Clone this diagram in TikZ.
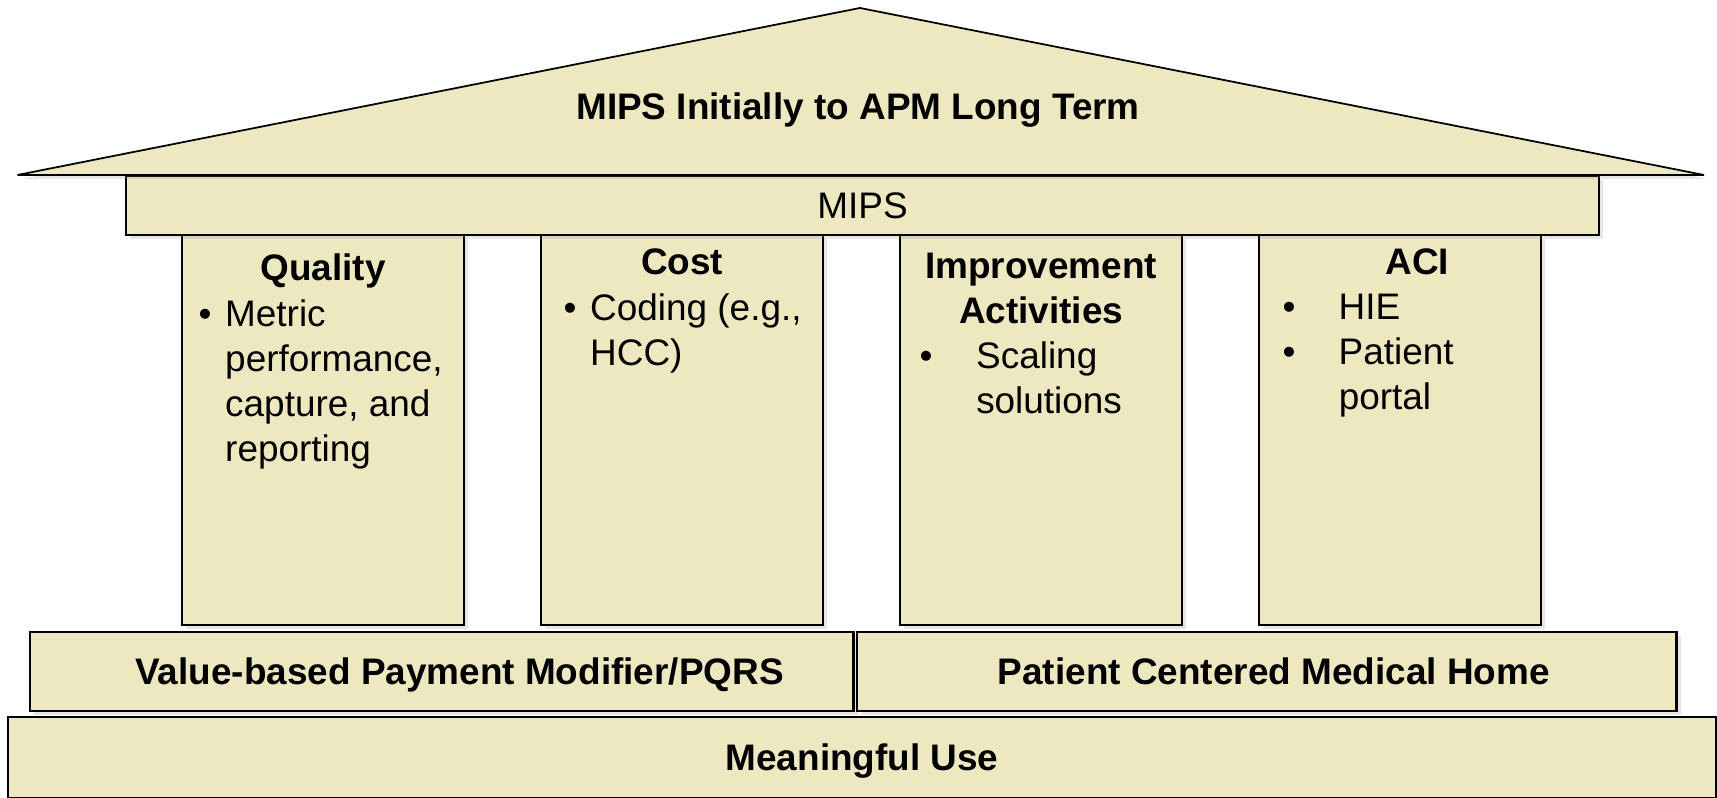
\documentclass[tikz,border=0pt]{standalone}
\usepackage{fontspec}
\setmainfont{Liberation Sans}
\usepackage{tikz}
\usetikzlibrary{shapes,shadows,positioning}
\definecolor{housefill}{RGB}{238,232,193}
\newcommand{\housefont}{\fontsize{10.5}{12.8}\selectfont}
\newcommand{\bulletlist}[2]{\begin{tabular}[t]{@{}p{#1}@{}l@{}}#2\end{tabular}}
\tikzset{basic/.style={draw,line width=0.6pt,fill=housefill,drop shadow={opacity=0.2,fill=black!50,shadow xshift=0.04cm,shadow yshift=-0.04cm}}}
\tikzset{beam/.style={basic,rectangle,anchor=north west,inner sep=0pt,text height=7.5pt,text depth=0pt,font=\housefont}}
\tikzset{footing/.style={beam,font=\housefont\bfseries}}
\tikzset{pillar/.style={basic,rectangle,anchor=north west,inner sep=0pt,minimum width=2.82cm,minimum height=3.9cm}}
\tikzset{head/.style={anchor=base,inner sep=0pt,font=\housefont\bfseries}}
\tikzset{items/.style={anchor=base west,inner sep=0pt,font=\housefont}}

\begin{document}
\begin{tikzpicture}[x=0.01cm,y=-0.01cm]
    \useasboundingbox (0,0) rectangle (1717,798);

    \node[footing,minimum width=17.07cm,minimum height=0.81cm] (mu) at (7,716) {Meaningful Use};
    \node[footing,minimum width=8.235cm,minimum height=0.79cm] (vbpm) at (28.5,631) {\hspace*{0.36cm}Value-based Payment Modifier/PQRS};
    \node[footing,minimum width=8.19cm,minimum height=0.79cm] (pcmh) at (856,631) {\hspace*{0.14cm}Patient Centered Medical Home};

    \node[pillar] (qual) at (181,234) {};
    \node[pillar] (cost) at (540,234) {};
    \node[pillar] (impr) at (899,234) {};
    \node[pillar] (aci) at (1258,234) {};

    \node[beam,minimum width=14.72cm,minimum height=0.59cm] (mips) at (125,175) {MIPS};

    \draw[basic,line width=0.5pt] (17.5,175) -- (860,8) -- (1704,175) -- cycle;
    \node[head] (title) at (858,120) {MIPS Initially to APM Long Term};

     \node[head] (qualhd) at ([yshift=-0.46cm]qual.north) {Quality};
     \node[head] (costhd) at ([yshift=-0.405cm]cost.north) {Cost};
     \node[head] (imprhd) at ([yshift=-0.44cm]impr.north) {\begin{tabular}[t]{@{}c@{}}Improvement\\Activities\end{tabular}};
     \node[head] (acihd) at ([xshift=0.17cm,yshift=-0.405cm]aci.north) {ACI};

     \node[items] (qualtx) at ([xshift=0.17cm,yshift=-0.92cm]qual.north west)
        {\bulletlist{0.265cm}{\textbullet & Metric\\ & performance,\\ & capture, and\\ & reporting}};
     \node[items] (costtx) at ([xshift=0.23cm,yshift=-0.865cm]cost.north west)
        {\bulletlist{0.265cm}{\textbullet & Coding (e.g.,\\ & HCC)}};
     \node[items] (imprtx) at ([xshift=0.2cm,yshift=-1.34cm]impr.north west)
        {\bulletlist{0.565cm}{\textbullet & Scaling\\ & solutions}};
     \node[items] (acitx) at ([xshift=0.24cm,yshift=-0.855cm]aci.north west)
        {\bulletlist{0.56cm}{\textbullet & HIE\\ \textbullet & Patient\\ & portal}};
\end{tikzpicture}
\end{document}
